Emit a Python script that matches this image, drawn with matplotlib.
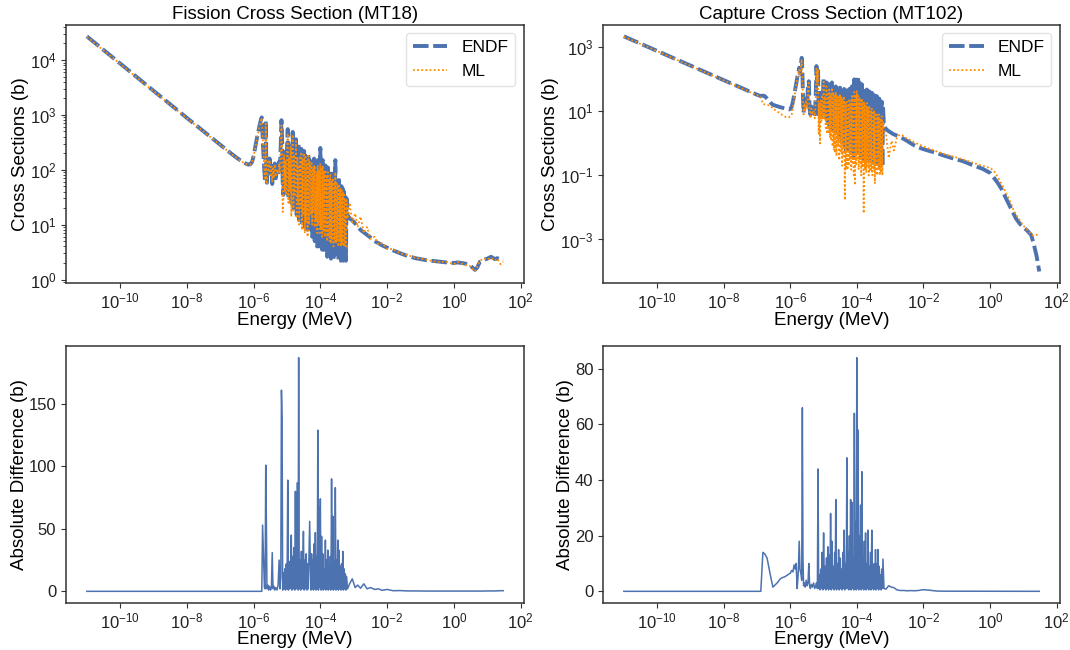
import numpy as np
import matplotlib
matplotlib.use("Agg")
import matplotlib.pyplot as plt

plt.rcParams['font.family'] = ['Liberation Sans', 'DejaVu Sans']
plt.rcParams['axes.edgecolor'] = '#333333'
plt.rcParams['axes.linewidth'] = 1.1
plt.rcParams['xtick.color'] = '#333333'
plt.rcParams['ytick.color'] = '#333333'
plt.rcParams['xtick.labelcolor'] = '#222222'
plt.rcParams['ytick.labelcolor'] = '#222222'
plt.rcParams['xtick.major.size'] = 3.5
plt.rcParams['ytick.major.size'] = 3.5
plt.rcParams['xtick.major.pad'] = 2.5

# energy grid (MeV): 1/v region, resolved resonances, dense block, fast region
energy = np.concatenate([
    [1e-11, 1e-10, 1e-9, 1e-8, 5e-8, 1e-7, 1.3e-7, 1.5e-7, 1.7e-7, 2e-7,
     2.5e-7, 3e-7, 4e-7, 5e-7, 6e-7, 7e-7, 8e-7, 9e-7, 1.0e-6, 1.1e-6,
     1.2e-6, 1.3e-6, 1.4e-6, 1.5e-6, 1.6e-6, 1.7e-6, 1.75e-6],
    np.array([1.85, 1.95, 2.1, 2.2, 2.3, 2.4, 2.5, 2.65, 2.8, 3.0,
              3.2, 3.4, 3.6, 3.8, 4.0, 4.3, 4.6, 5.0, 5.4, 5.8,
              6.1, 6.5, 6.8, 7.1, 7.4, 7.8, 8.2, 8.6, 9.0, 9.5,
              10.0, 10.5, 11.0, 11.6, 12.2, 12.8, 13.4, 14.1, 14.8, 15.5,
              16.2, 17.0, 17.8, 18.6, 19.5, 20.5, 21.5, 22.3, 23.2, 24.4,
              25.6, 26.9, 28.2, 29.6, 31.0, 32.5, 34.1, 35.8, 37.6, 39.4,
              41.3, 43.4, 45.5, 47.7]) * 1e-6,
    np.array([0.500, 0.522, 0.545, 0.569, 0.594, 0.620, 0.647, 0.676, 0.705, 0.736,
              0.769, 0.803, 0.838, 0.875, 0.913, 0.953, 0.995, 1.04, 1.085, 1.13,
              1.18, 1.23, 1.29, 1.35, 1.41, 1.47, 1.53, 1.60, 1.67, 1.74,
              1.82, 1.90, 1.98, 2.07, 2.16, 2.26, 2.36, 2.46, 2.57, 2.68,
              2.80, 2.92, 3.05, 3.18, 3.32, 3.47, 3.62, 3.78, 3.95, 4.12,
              4.30, 4.49, 4.69, 4.90, 5.11, 5.34, 5.57, 5.82, 6.07]) * 1e-4,
    [6.5e-4, 7.5e-4, 9e-4, 1.1e-3, 1.3e-3, 1.6e-3, 2e-3, 2.5e-3, 3.2e-3, 4.2e-3,
     5.5e-3, 7e-3, 1e-2, 1.5e-2, 2.5e-2, 4e-2, 7e-2, 0.15, 0.3, 0.6,
     1.0, 1.3, 1.7, 2.2, 3.1, 4.3, 5.0, 6.0, 8.0, 10.0,
     13.0, 17.0, 20.0, 25.0, 30.0],
])

# fission (MT18), barns
fis_endf = np.array([
    27000, 8600, 2750, 880, 400, 285, 250, 233, 220, 203,
    183, 168, 148, 136, 128, 124, 126, 140, 180, 250,
    330, 420, 520, 640, 760, 870, 900,
    420, 200, 90, 60, 790, 120, 58, 150, 95, 160,
    85, 120, 55, 110, 75, 130, 70, 110, 80, 140,
    95, 300, 800, 400, 60, 35, 210, 45, 160, 40,
    250, 550, 30, 180, 45, 300, 25, 180, 490, 20,
    220, 40, 200, 360, 15, 260, 30, 300, 12, 200,
    25, 240, 10, 160, 20, 220, 9, 180, 14, 140,
    7, 200, 12, 150,
    140, 9, 160, 6, 120, 12, 160, 5, 130, 8,
    100, 4, 150, 7, 120, 4, 250, 6, 140, 3.5,
    150, 5, 110, 3, 120, 6, 90, 2.6, 110, 4,
    80, 3, 95, 2.4, 70, 3.5, 85, 2.2, 65, 3,
    150, 2.5, 70, 3.2, 60, 2.3, 65, 3, 50, 2.2,
    50, 2.8, 45, 2.2, 40, 2.6, 35, 2.2, 30,
    15, 13, 12, 10.5, 9.2, 8.0, 7.2, 6.5, 5.8, 5.0,
    4.6, 4.2, 3.8, 3.4, 3.0, 2.7, 2.45, 2.25, 2.15, 2.05,
    2.0, 2.05, 2.0, 1.95, 1.8, 1.5, 1.65, 2.1, 2.3, 2.4,
    2.6, 2.35, 2.45, 2.3, 2.35,
])
fis_ml = np.array([
    26500, 8500, 2700, 870, 395, 282, 248, 230, 218, 200,
    181, 166, 146, 134, 126, 122, 125, 138, 175, 240,
    320, 410, 505, 630, 745, 850, 880,
    400, 210, 85, 65, 690, 62, 55, 140, 100, 150,
    80, 115, 60, 105, 70, 125, 75, 100, 85, 130,
    90, 280, 640, 262, 17, 33, 190, 40, 150, 35,
    220, 460, 25, 160, 40, 270, 14, 170, 440, 18,
    190, 35, 120, 330, 13, 170, 25, 113, 10, 180,
    20, 210, 8, 150, 16, 200, 7, 170, 11, 130,
    6, 180, 10, 140,
    110, 15, 130, 10, 100, 18, 120, 9, 110, 12,
    90, 7, 120, 10, 100, 7, 130, 9, 110, 6,
    120, 8, 90, 6, 100, 8, 75, 5, 90, 6,
    65, 5, 80, 4.5, 60, 5.5, 70, 4, 55, 5,
    90, 4.5, 60, 5, 50, 4, 55, 5, 45, 4,
    45, 4.5, 40, 4, 35, 4.2, 30, 4, 28,
    13, 25, 11, 16, 9, 14, 7, 9, 5.5, 6,
    4.3, 4.6, 3.6, 3.6, 3.0, 2.8, 2.5, 2.3, 2.1, 2.1,
    1.9, 2.1, 1.95, 1.85, 1.75, 1.4, 1.7, 2.2, 2.4, 2.3,
    2.5, 2.2, 2.4, 1.9, 2.1,
])
fis_diff = np.array([
    0, 0, 0, 0, 0, 0, 0, 0, 0, 0,
    0, 0, 0, 0, 0, 0, 0, 0, 0, 0,
    0, 0, 0, 0, 0, 0, 0,
    53, 32, 3, 2, 101, 58, 2, 5, 1, 4,
    1, 3, 31, 2, 4, 1, 3, 1, 5, 25,
    2, 12, 161, 138, 1, 15, 2, 18, 1, 22,
    2, 89, 1, 24, 2, 18, 45, 1, 28, 2,
    35, 1, 80, 2, 20, 87, 1, 187, 2, 25,
    1, 32, 2, 22, 48, 1, 25, 2, 30, 1,
    22, 2, 28, 56,
    20, 1, 30, 2, 25, 1, 38, 2, 47, 1,
    28, 2, 129, 1, 67, 3, 74, 1, 44, 2,
    30, 1, 18, 2, 41, 1, 25, 2, 33, 1,
    22, 2, 28, 1, 90, 2, 60, 1, 24, 2,
    83, 1, 25, 2, 41, 1, 33, 2, 20, 1,
    22, 2, 32, 1, 18, 2, 14, 1, 12,
    2, 6, 10, 3, 5, 2.5, 6, 2, 3, 1.5,
    2, 0.8, 1.5, 0.5, 0.6, 0.3, 0.3, 0.2, 0.2, 0.2,
    0.2, 0.2, 0.2, 0.2, 0.2, 0.2, 0.2, 0.2, 0.2, 0.3,
    0.3, 0.3, 0.4, 0.5, 0.5,
])

# capture (MT102), barns
cap_endf = np.array([
    2200, 770, 270, 95, 45, 33, 30, 31, 30, 25,
    19, 16, 14.5, 13.5, 12.8, 12.2, 11.8, 11.5, 11.8, 14,
    20, 32, 50, 75, 110, 150, 170,
    230, 150, 300, 470, 200, 30, 9, 20, 12, 25,
    14, 70, 87, 12, 8, 14, 9, 12, 7, 30,
    260, 90, 230, 8, 25, 6, 30, 7, 40, 10,
    112, 9, 40, 6, 80, 5, 60, 4, 70, 3,
    50, 5, 80, 3, 55, 2.5, 45, 4, 60, 2,
    50, 3, 40, 1.5, 55, 2, 45, 1, 40, 1.2,
    50, 0.8, 35, 0.6,
    45, 0.8, 35, 0.6, 50, 0.9, 40, 0.5, 60, 0.7,
    45, 0.4, 100, 0.6, 70, 0.5, 98, 0.8, 125, 0.4,
    80, 0.6, 60, 0.35, 70, 0.5, 50, 0.3, 55, 0.45,
    40, 0.3, 48, 0.4, 35, 0.25, 42, 0.35, 30, 0.3,
    38, 0.25, 28, 0.3, 32, 0.2, 25, 0.3, 30, 0.2,
    22, 0.25, 25, 0.2, 18, 0.25, 20, 0.18, 15,
    3.5, 2.8, 2.4, 2.1, 1.9, 1.75, 1.6, 1.4, 1.2, 1.0,
    0.85, 0.75, 0.66, 0.58, 0.5, 0.42, 0.35, 0.28, 0.21, 0.16,
    0.12, 0.085, 0.058, 0.038, 0.018, 0.009, 0.0065, 0.0045, 0.003, 0.0024,
    0.0019, 0.0014, 0.0008, 0.0003, 0.0001,
])
cap_ml = np.array([
    2150, 760, 265, 93, 44, 32, 29, 17, 16.5, 16,
    15, 12, 10, 8.5, 7.5, 6.8, 6.5, 6.5, 7, 8,
    13, 24, 42, 65, 105, 140, 150,
    200, 140, 260, 420, 134, 25, 8, 18, 10, 20,
    12, 60, 77, 10, 6, 12, 8, 10, 6, 25,
    215, 80, 205, 2, 18, 1.0, 22, 5, 33, 6,
    84, 6, 30, 3, 60, 2, 40, 2, 48, 1.5,
    35, 1.2, 55, 0.8, 40, 0.6, 30, 0.5, 40, 0.4,
    30, 0.8, 28, 0.3, 35, 0.5, 30, 0.2, 25, 0.4,
    30, 0.017, 20, 0.15,
    20, 0.15, 15, 0.2, 25, 0.3, 18, 0.15, 30, 0.25,
    22, 0.1, 40, 0.05, 30, 0.2, 45, 0.3, 35, 0.15,
    28, 0.25, 22, 0.1, 25, 0.2, 18, 0.0066, 20, 0.15,
    15, 0.12, 18, 0.2, 12, 0.1, 15, 0.15, 10, 0.15,
    12, 0.1, 9, 0.15, 10, 0.055, 8, 0.12, 9, 0.1,
    7, 0.15, 8, 0.1, 6, 0.12, 7, 0.1, 5,
    3.0, 2.0, 0.35, 1.2, 0.6, 1.6, 1.9, 1.7, 1.4, 1.25,
    1.05, 0.95, 0.8, 0.68, 0.56, 0.47, 0.4, 0.32, 0.25, 0.2,
    0.17, 0.14, 0.09, 0.055, 0.027, 0.013, 0.0085, 0.006, 0.0038, 0.0027,
    0.002, 0.0015, 0.0013, 0.0014, 0.0014,
])
cap_diff = np.array([
    0, 0, 0, 0, 0, 0, 0, 14, 13.5, 12,
    6, 1.5, 3, 4.5, 5, 5.3, 5.8, 6.2, 6.5, 7.5,
    7, 9.5, 8, 10, 1, 5, 8,
    18, 8, 6, 4, 66, 12, 2, 3, 1.5, 4,
    2, 3, 10, 2, 1, 2.5, 1.5, 3, 1, 2,
    3, 1, 44, 1, 6, 0.5, 8, 1, 14, 0.5,
    21, 1, 9, 0.5, 12, 1, 16, 0.5, 13, 1,
    28, 0.5, 18, 1, 9, 0.5, 14, 1, 33, 0.5,
    10, 1, 15, 0.5, 12, 1, 8, 0.5, 14, 1,
    22, 0.5, 10, 1,
    48, 1, 14, 0.5, 20, 1, 33, 0.5, 32, 1,
    12, 0.5, 64, 1, 25, 0.5, 84, 1, 58, 0.5,
    20, 1, 31, 0.5, 43, 1, 12, 0.5, 18, 1,
    21, 0.5, 10, 1, 22, 0.5, 9, 1, 14, 0.5,
    22, 1, 8, 0.5, 10, 1, 15, 0.5, 10, 1,
    15, 0.5, 9, 1, 6, 0.5, 8, 1, 11.6,
    1, 0.8, 2, 1.5, 1.3, 0.5, 0.3, 0.3, 0.2, 0.25,
    0.2, 0.3, 0.6, 0.4, 0.1, 0.05, 0.05, 0.04, 0.04, 0.04,
    0.05, 0.05, 0.03, 0.02, 0.01, 0.01, 0.01, 0.01, 0.01, 0.01,
    0.01, 0.01, 0.01, 0.01, 0.01,
])

for name, arr in [('fis_endf', fis_endf), ('fis_ml', fis_ml), ('fis_diff', fis_diff),
                  ('cap_endf', cap_endf), ('cap_ml', cap_ml), ('cap_diff', cap_diff)]:
    if len(arr) != len(energy):
        raise ValueError(f'{name}: {len(arr)} values vs {len(energy)} energies')

blue = '#4C72B0'
orange = 'darkorange'

fig = plt.figure(figsize=(10.7, 6.5), dpi=100)
ax_fis = fig.add_axes([0.0617, 0.5642, 0.4280, 0.3980])
ax_cap = fig.add_axes([0.5636, 0.5642, 0.4271, 0.3980])
ax_fd = fig.add_axes([0.0617, 0.0723, 0.4280, 0.3954])
ax_cd = fig.add_axes([0.5636, 0.0723, 0.4271, 0.3954])

decade_ticks = [1e-10, 1e-8, 1e-6, 1e-4, 1e-2, 1e0, 1e2]

for ax, endf, ml, title in [(ax_fis, fis_endf, fis_ml, 'Fission Cross Section (MT18)'),
                            (ax_cap, cap_endf, cap_ml, 'Capture Cross Section (MT102)')]:
    ax.plot(energy, endf, linestyle='--', dashes=(4, 1.2), color=blue, lw=2.8, label='ENDF')
    ax.plot(energy, ml, linestyle=':', dashes=(1, 1.3), color=orange, lw=1.3, label='ML')
    ax.set_xscale('log')
    ax.set_yscale('log')
    ax.set_xticks(decade_ticks)
    ax.set_title(title, fontsize=13.5, pad=4)
    ax.set_xlabel('Energy (MeV)', fontsize=13.5, labelpad=0)
    ax.set_ylabel('Cross Sections (b)', fontsize=13.5, labelpad=0.5)
    ax.tick_params(labelsize=12)
    ax.legend(loc='upper right', fontsize=12.5, edgecolor='#dddddd')

ax_cap.set_yticks([1e-3, 1e-1, 1e1, 1e3])

for ax, diff in [(ax_fd, fis_diff), (ax_cd, cap_diff)]:
    ax.plot(energy, diff, color=blue, lw=1.1)
    ax.set_xscale('log')
    ax.set_xticks(decade_ticks)
    ax.set_xlabel('Energy (MeV)', fontsize=13.5, labelpad=0)
    ax.set_ylabel('Absolute Difference (b)', fontsize=13.5, labelpad=0.5)
    ax.tick_params(labelsize=12)

ax_cd.set_yticks([0, 20, 40, 60, 80])

fig.savefig('out.png', dpi=100)
